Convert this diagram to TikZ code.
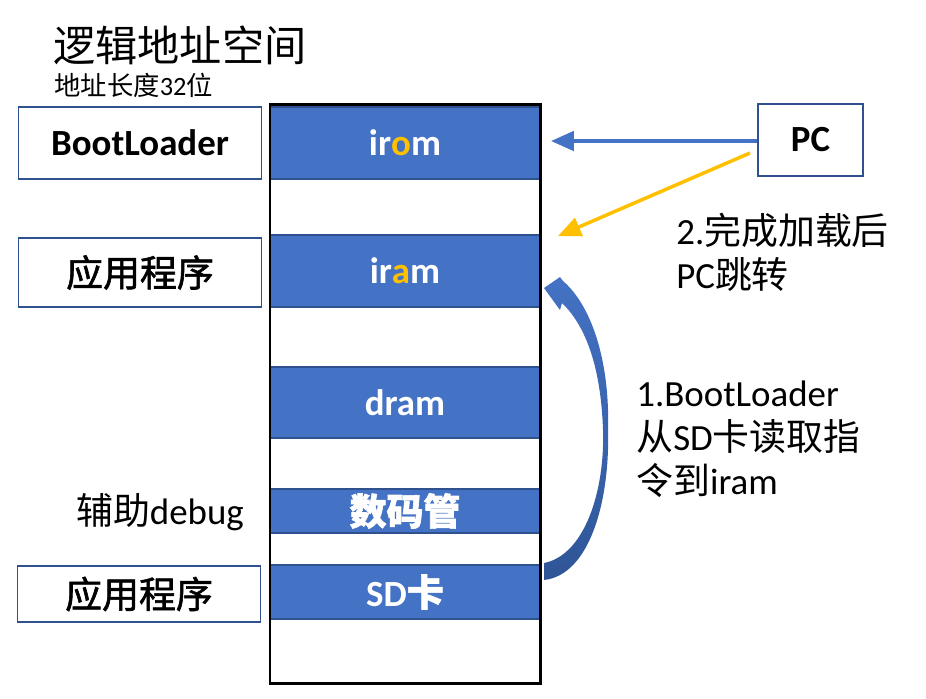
\documentclass[tikz,border=0pt]{standalone}
\usepackage{fontspec}
\setmainfont{Carlito}
\newfontfamily\cjk{Noto Sans CJK SC}
\newfontfamily\cjkmed[FakeBold=1.6]{Noto Sans CJK SC}
\usetikzlibrary{arrows.meta}

\definecolor{bandblue}{HTML}{4472C4}
\definecolor{edgeblue}{HTML}{2F528F}
\definecolor{darkblue}{HTML}{2F5597}
\definecolor{accent}{HTML}{FFC000}

\tikzset{
  band/.style={draw=edgeblue, fill=bandblue, line width=0.6pt, minimum width=5.4cm,
    inner sep=0pt, text=white, font=\fontsize{21}{25}\selectfont\bfseries},
  sidebox/.style={draw=edgeblue, line width=0.6pt, minimum width=4.86cm, inner sep=0pt,
    font=\fontsize{21}{25}\selectfont},
  note/.style={font=\fontsize{21}{25}\selectfont, align=left, inner sep=0pt},
}

\begin{document}
\begin{tikzpicture}[x=0.02cm, y=-0.02cm]
  \useasboundingbox (0,0) rectangle (926,698);
  % titles
  \node[anchor=west, inner sep=0pt, font=\fontsize{24}{28}\selectfont\cjk] (title) at (53,45) {逻辑地址空间};
  \node[anchor=west, inner sep=0pt, font=\fontsize{15}{18}\selectfont] (sub) at (54,85) {{\cjk 地址长度}32{\cjk 位}};
  % memory bands
  \node[band, minimum height=1.44cm] (irom) at (405,143) {ir{\color{accent}o}m};
  \node[band, minimum height=1.44cm] (iram) at (405,271) {ir{\color{accent}a}m};
  \node[band, minimum height=1.42cm] (dram) at (405,402.5) {dram};
  \node[band, minimum height=0.88cm] (seg) at (405,511) {\cjkmed 数码管};
  \node[band, minimum height=1.08cm] (sd) at (405,592) {SD{\cjkmed 卡}};
  \draw[line width=1.7pt] (270,104) rectangle (540,683);
  % side labels
  \node[sidebox, minimum height=1.44cm, font=\fontsize{21}{25}\selectfont\bfseries] (boot) at (140,143) {BootLoader};
  \node[sidebox, minimum height=1.38cm] (app) at (140,272.5) {\cjkmed 应用程序};
  \node[note] (dbg) at (160,512) {{\cjk 辅助}debug};
  \node[sidebox, minimum height=1.12cm] (app2) at (139,594) {\cjkmed 应用程序};
  % PC and jumps
  \node[draw=edgeblue, line width=0.6pt, minimum width=2.1cm, minimum height=1.44cm,
    inner sep=0pt, font=\fontsize{21}{25}\selectfont\bfseries] (pc) at (810.5,140) {PC};
  \coordinate (pcend) at (551,141);
  \coordinate (pcfrom) at (750,153);
  \coordinate (jumpend) at (558,236);
  \draw[bandblue, line width=2pt, -{Triangle[length=13pt, width=11pt]}] (pc.west |- pcend) -- (pcend);
  \draw[accent, line width=2pt, -{Triangle[length=13pt, width=11pt]}] (pcfrom) -- (jumpend);
  \node[note, anchor=west] (step2) at (676,252) {2.{\cjk 完成加载后}\\PC{\cjk 跳转}};
  \node[note, anchor=west] (step1) at (636,439) {1.BootLoader\\{\cjk 从}SD{\cjk 卡读取指}\\{\cjk 令到}iram};
  % curved load arrow
  \shade[top color=bandblue, bottom color=darkblue]
    (544,563) .. controls (585,555) and (605,490) .. (603,430)
    .. controls (601,370) and (587,327) .. (562,303)
    -- (560,310) -- (544,288) -- (560,277) -- (563,281)
    .. controls (591,305) and (610,360) .. (608,430)
    .. controls (610,500) and (590,575) .. (544,580) -- cycle;
\end{tikzpicture}
\end{document}
